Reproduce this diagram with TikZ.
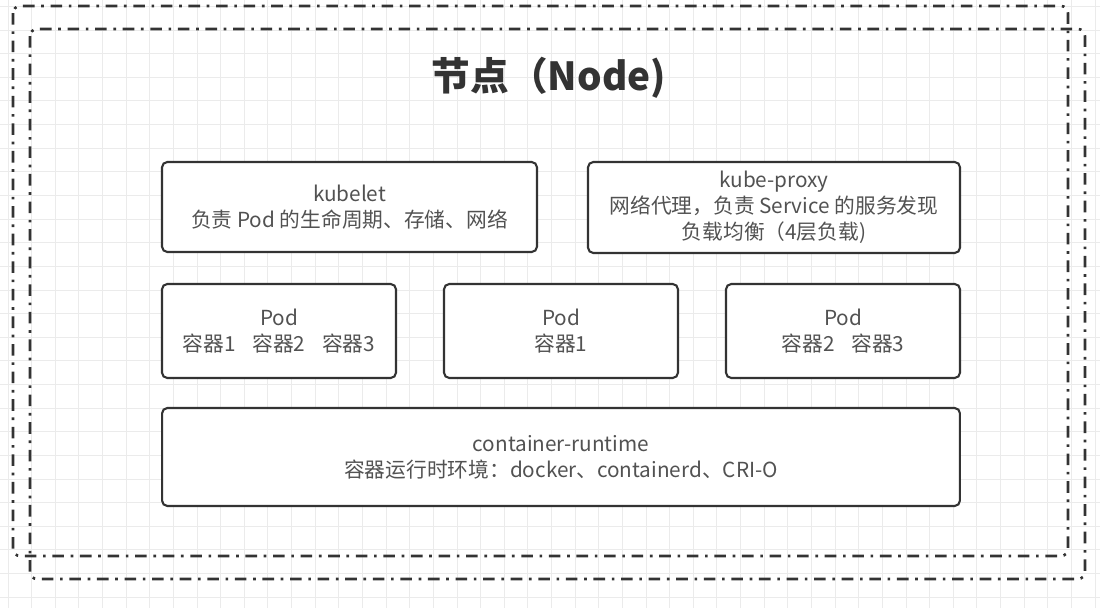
\documentclass[tikz,border=0pt]{standalone}
\usepackage{fontspec}
\setmainfont{Noto Sans CJK SC}
\begin{document}
\begin{tikzpicture}[x=0.02cm, y=-0.02cm,
    gridline/.style={draw=black!8, line width=0.5pt},
    frame/.style={draw=black!80, line width=1.5pt, rounded corners=4pt, dash pattern=on 6.6pt off 3.8pt on 1.5pt off 3.8pt},
    box/.style={draw=black!80, line width=1.2pt, rounded corners=3pt, fill=white, text=black!68, align=center, inner sep=0pt, font=\fontsize{11.8}{14.8}\selectfont}]
    \useasboundingbox (0,0) rectangle (1100,608);
    \fill[white] (0,0) rectangle (1100,608);
    \foreach \i in {0,...,46}
        \draw[gridline] ({8+23.63*\i},0) -- ({8+23.63*\i},608);
    \foreach \j in {0,...,25}
        \draw[gridline] (0,{6.4+23.63*\j}) -- (1100,{6.4+23.63*\j});
    \draw[frame] (13,6) rectangle (1068,556);
    \draw[frame] (30,29) rectangle (1085,579);
    \node[text=black!80, font=\bfseries\fontsize{22}{26}\selectfont] (title) at (549,78) {节点（Node)};
    \node[box, minimum width=7.5cm, minimum height=1.8cm] (kubelet) at (349.5,207) {kubelet\\负责 Pod 的生命周期、存储、网络};
    \node[box, minimum width=7.44cm, minimum height=1.82cm] (proxy) at (774,207.5) {kube-proxy\\网络代理，负责 Service 的服务发现\\负载均衡（4层负载)};
    \node[box, minimum width=4.68cm, minimum height=1.88cm] (poda) at (279,331) {Pod\\容器1\hspace{0.8em}容器2\hspace{0.8em}容器3};
    \node[box, minimum width=4.68cm, minimum height=1.88cm] (podb) at (561,331) {Pod\\容器1};
    \node[box, minimum width=4.68cm, minimum height=1.88cm] (podc) at (843,331) {Pod\\容器2\hspace{0.8em}容器3};
    \node[box, minimum width=15.96cm, minimum height=1.96cm] (runtime) at (561,457) {container-runtime\\容器运行时环境：docker、containerd、CRI-O};
\end{tikzpicture}
\end{document}
